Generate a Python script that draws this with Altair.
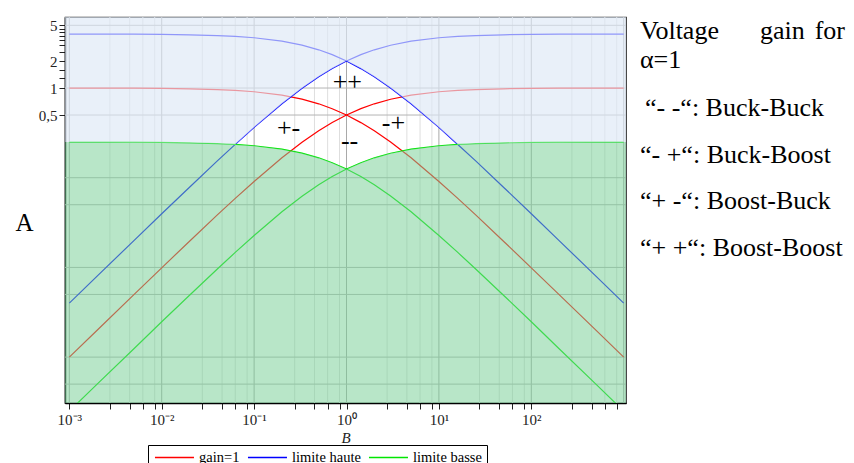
import altair as alt
import pandas as pd

# ---------------- data ----------------
B = [0.001, 0.002, 0.005, 0.01, 0.02, 0.04, 0.0625, 0.1, 0.2, 0.33, 0.5, 0.7, 1,
     1.43, 2, 3, 5, 10, 16, 25, 50, 100, 200, 500, 1000]
gain_up = [0.000999, 0.001996, 0.004975, 0.0099, 0.0196, 0.0385, 0.0588, 0.0909, 0.1667,
           0.2481, 0.3333, 0.4118, 0.5, 0.5885, 0.6667, 0.75, 0.8333, 0.9091, 0.9412,
           0.9615, 0.9804, 0.9901, 0.9950, 0.9980, 0.9990]
gain_down = [0.999, 0.998, 0.995, 0.990, 0.980, 0.9615, 0.9412, 0.9091, 0.8333, 0.7519,
             0.6667, 0.5882, 0.5, 0.4115, 0.3333, 0.25, 0.1667, 0.0909, 0.0588, 0.0385,
             0.0196, 0.0099, 0.004975, 0.002, 0.000999]
haute_up = [0.004, 0.008, 0.0199, 0.0396, 0.0784, 0.154, 0.235, 0.364, 0.667, 0.992, 1.333,
            1.647, 2.0, 2.354, 2.667, 3.0, 3.333, 3.636, 3.765, 3.846, 3.922, 3.96, 3.98,
            3.992, 3.996]
haute_down = [3.996, 3.992, 3.98, 3.96, 3.922, 3.846, 3.765, 3.636, 3.333, 3.008, 2.667,
              2.353, 2.0, 1.646, 1.333, 1.0, 0.667, 0.364, 0.235, 0.154, 0.0784, 0.0396,
              0.0199, 0.008, 0.004]
basse_up = [0.00025, 0.0005, 0.00124, 0.00248, 0.0049, 0.0096, 0.0147, 0.0227, 0.0417,
            0.062, 0.0833, 0.103, 0.125, 0.147, 0.1667, 0.1875, 0.2083, 0.2273, 0.2353,
            0.2404, 0.2451, 0.2475, 0.2488, 0.2495, 0.2498]
basse_down = [0.2498, 0.2495, 0.2488, 0.2475, 0.245, 0.2404, 0.2353, 0.2273, 0.2083, 0.188,
              0.1667, 0.147, 0.125, 0.103, 0.0833, 0.0625, 0.0417, 0.0227, 0.0147, 0.0096,
              0.0049, 0.00248, 0.00124, 0.0005, 0.00025]

series_names = ["gain=1", "limite haute", "limite basse"]
series_colors = ["#ff0000", "#0000ff", "#00e600"]

x_ticks_major = [0.001, 0.01, 0.1, 1, 10, 100]
x_tick_labels = ["10⁻³", "10⁻²", "10⁻¹", "10⁰", "10¹", "10²"]
x_minor_factors = [2.75, 4.5, 6.25, 8.4]
y_ticks = [0.5, 1, 1.3, 1.6, 2, 2.5, 3, 3.4, 3.8, 4.2, 4.6, 5]
y_labelled = [0.5, 1, 2, 5]
y_labels = ["0,5", "1", "2", "5"]
y_grid = [5, 1, 0.5, 0.1, 0.05, 0.01, 0.005, 0.001, 0.0005]

ann_text = ["++", "+-", "--", "-+"]
ann_B = [1.02, 0.236, 1.08, 3.22]
ann_val = [1.17, 0.36, 0.258, 0.41]

x_dom = [8.98e-4, 1059]
y_dom = [3.08e-4, 6.19]

# ---------------- tables ----------------
rows = []
for name, curve, vals in [("gain=1", "a", gain_up), ("gain=1", "b", gain_down),
                          ("limite haute", "a", haute_up), ("limite haute", "b", haute_down),
                          ("limite basse", "a", basse_up), ("limite basse", "b", basse_down)]:
    for b, v in zip(B, vals):
        rows.append({"B": b, "val": v, "series": name, "curve": name + curve})
lines_df = pd.DataFrame(rows)

env = pd.DataFrame({"B": B,
                    "maxg": [max(a, b) for a, b in zip(basse_up, basse_down)],
                    "minb": [min(a, b) for a, b in zip(haute_up, haute_down)]})
env["lbl"] = env[["maxg", "minb"]].max(axis=1)
first = env.iloc[[0]].copy(); first["B"] = x_dom[0]
last = env.iloc[[-1]].copy(); last["B"] = x_dom[1]
env = pd.concat([first, env, last], ignore_index=True)
env["top"] = y_dom[1]
env["bottom"] = y_dom[0]

minor_vals = [d * f for d in x_ticks_major + [1000] for f in x_minor_factors if d * f < x_dom[1]]
vmaj_df = pd.DataFrame({"v": x_ticks_major + [1000]})
vmin_df = pd.DataFrame({"v": minor_vals})
hgrid_df = pd.DataFrame({"v": y_grid})
ann_df = pd.DataFrame({"B": ann_B, "val": ann_val, "t": ann_text})
x_ticks_all = sorted(x_ticks_major + minor_vals)

xs = alt.Scale(type="log", domain=x_dom, nice=False)
ys = alt.Scale(type="log", domain=y_dom, nice=False)

SERIF = "Liberation Serif"

x_label_expr = " : ".join(f"datum.value == {v} ? '{t}'" for v, t in zip(x_ticks_major, x_tick_labels)) + " : ''"
y_label_expr = " : ".join(f"datum.value == {v} ? '{t}'" for v, t in zip(y_labelled, y_labels)) + " : ''"

x_axis = alt.Axis(
    values=x_ticks_all, grid=False, title="B", labelExpr=x_label_expr,
    labelFont=SERIF, labelFontSize=15, labelColor="#222", labelOverlap=False,
    labelPadding=3, tickSize=6, tickColor="#222", domainColor="black", domainWidth=1.5,
    titleFont=SERIF, titleFontStyle="italic", titleFontWeight="normal", titleFontSize=15,
    titleColor="#222", titlePadding=3,
)
y_axis = alt.Axis(
    values=y_ticks, grid=False, title="A", labelExpr=y_label_expr,
    labelFont=SERIF, labelFontSize=15, labelColor="#222", labelOverlap=False,
    labelPadding=2, tickSize=6, tickColor="#222", domainColor="black", domainWidth=1.5,
    titleFont=SERIF, titleFontSize=25, titleFontWeight="normal", titleColor="black",
    titleAngle=0, titleX=-41, titleY=205, titleAlign="center", titleBaseline="middle",
)


def X(field):
    return alt.X(field, scale=xs, axis=x_axis)


def Y(field):
    return alt.Y(field, scale=ys, axis=y_axis)


vmaj = alt.Chart(vmaj_df).mark_rule(color="#a9a9a9", strokeWidth=1, clip=True).encode(x=X("v:Q"))
vmin = alt.Chart(vmin_df).mark_rule(color="#dedede", strokeWidth=1, clip=True).encode(x=X("v:Q"))
hgrid = alt.Chart(hgrid_df).mark_rule(color="#b4b4b4", strokeWidth=1, clip=True).encode(y=Y("v:Q"))

lines = alt.Chart(lines_df).mark_line(strokeWidth=1.2, clip=True).encode(
    x=X("B:Q"), y=Y("val:Q"),
    color=alt.Color("series:N", scale=alt.Scale(domain=series_names, range=series_colors),
                    legend=alt.Legend(title=None, orient="none", legendX=83, legendY=428,
                                      direction="horizontal", symbolType="M-0.85,0H5.15",
                                      symbolSize=169, symbolStrokeWidth=1.5,
                                      labelFont=SERIF, labelFontSize=14.5, labelColor="black",
                                      strokeColor="black", fillColor="white", padding=5,
                                      columnPadding=4, labelOffset=31)),
    detail="curve:N",
)

green_fill = alt.Chart(env).mark_area(color="#79cf97", opacity=0.53, clip=True).encode(
    x=X("B:Q"), y=Y("bottom:Q"), y2="maxg:Q")
blue_fill = alt.Chart(env).mark_area(color="#dde8f6", opacity=0.65, clip=True).encode(
    x=X("B:Q"), y=Y("lbl:Q"), y2="top:Q")

ann = alt.Chart(ann_df).mark_text(font=SERIF, fontSize=26, color="black",
                                  align="center", baseline="middle").encode(
    x=X("B:Q"), y=Y("val:Q"), text="t:N")

# side text (page coords minus plot origin 65,17)
side = [("Voltage", 575, 22.3, "left"), ("gain", 695, 22.3, "left"), ("for", 780, 22.3, "right"),
        ("α=1", 575, 51.3, "left"), ("“- -“: Buck-Buck", 580, 99, "left"),
        ("“- +“: Buck-Boost", 575, 146, "left"), ("“+ -“: Boost-Buck", 575, 192, "left"),
        ("“+ +“: Boost-Boost", 575, 239, "left")]
side_layers = []
for t, px, py, al in side:
    side_layers.append(
        alt.Chart(pd.DataFrame({"t": [t]})).mark_text(font=SERIF, fontSize=26, color="black",
                                                     align=al, baseline="alphabetic").encode(
            x=alt.value(px), y=alt.value(py), text="t:N"))

chart = alt.layer(vmin, vmaj, hgrid, lines, green_fill, blue_fill, ann,
                  *side_layers).properties(
    width=561, height=386,
    padding={"left": 57, "top": 9, "right": 220, "bottom": 60},
    autosize=alt.AutoSizeParams(type="none"),
).configure_view(stroke="#333", strokeWidth=1.2)

chart.save("out.html", embed_options={"renderer": "svg", "actions": False})
